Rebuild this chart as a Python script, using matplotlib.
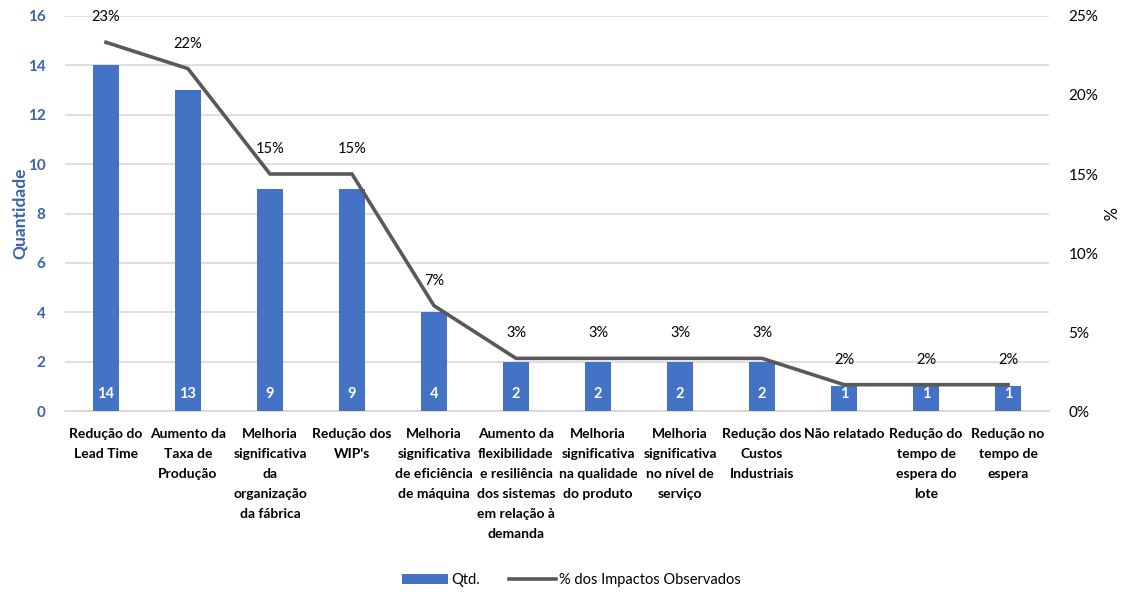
import matplotlib
matplotlib.use("Agg")
import matplotlib.pyplot as plt
from matplotlib.ticker import FuncFormatter, MultipleLocator
import numpy as np

plt.rcParams['font.family'] = ['Lato', 'DejaVu Sans']

categories = [
    "Redução do\nLead Time",
    "Aumento da\nTaxa de\nProdução",
    "Melhoria\nsignificativa\nda\norganização\nda fábrica",
    "Redução dos\nWIP's",
    "Melhoria\nsignificativa\nde eficiência\nde máquina",
    "Aumento da\nflexibilidade\ne resiliência\ndos sistemas\nem relação à\ndemanda",
    "Melhoria\nsignificativa\nna qualidade\ndo produto",
    "Melhoria\nsignificativa\nno nível de\nserviço",
    "Redução dos\nCustos\nIndustriais",
    "Não relatado",
    "Redução do\ntempo de\nespera do\nlote",
    "Redução no\ntempo de\nespera",
]
quantidade = [14, 13, 9, 9, 4, 2, 2, 2, 2, 1, 1, 1]
percent = [100 * q / sum(quantidade) for q in quantidade]

BLUE = "#4472C4"
AXIS_BLUE = "#3B62AC"
LINE_GRAY = "#595959"

fig = plt.figure(figsize=(11.24, 5.92), dpi=100)
ax = fig.add_axes([0.0578, 0.3057, 0.8755, 0.6673])
x = np.arange(len(categories))

bars = ax.bar(x, quantidade, width=0.31, color=BLUE, zorder=3, label="Qtd.")
ax.set_xlim(-0.5, len(categories) - 0.5)
ax.set_ylim(0, 16)
ax.yaxis.set_major_locator(MultipleLocator(2))
ax.grid(axis='y', color="#D9D9D9", linewidth=1.2, zorder=0)
for s in ['top', 'right', 'left']:
    ax.spines[s].set_visible(False)
ax.spines['bottom'].set_color("#D9D9D9")
ax.spines['bottom'].set_linewidth(1.2)
ax.tick_params(axis='both', length=0)
ax.tick_params(axis='y', labelcolor=AXIS_BLUE, labelsize=11, pad=14)
for lab in ax.get_yticklabels():
    lab.set_fontweight('bold')
ax.set_xticks(x)
ax.set_xticklabels(categories, fontsize=10, fontweight='bold', linespacing=1.8)
ax.tick_params(axis='x', pad=12)
ax.set_ylabel("Quantidade", color=AXIS_BLUE, fontsize=12.5, fontweight='bold', labelpad=0)

for xi, q in zip(x, quantidade):
    ax.text(xi, 0.7, str(q), color='white', fontweight='bold', fontsize=10.5,
            ha='center', va='center', zorder=4)

ax2 = ax.twinx()
ax2.set_ylim(0, 25)
ax2.yaxis.set_major_locator(MultipleLocator(5))
ax2.yaxis.set_major_formatter(FuncFormatter(lambda v, p: f"{v:.0f}%"))
for s in ax2.spines.values():
    s.set_visible(False)
ax2.tick_params(axis='y', length=0, labelsize=11, pad=14)
ax2.set_ylabel("%", fontsize=12, rotation=270, labelpad=12)
line, = ax2.plot(x, percent, color=LINE_GRAY, linewidth=2.6, zorder=5,
                 label="% dos Impactos Observados", solid_joinstyle='miter')
for xi, p in zip(x, percent):
    ax2.annotate(f"{p:.0f}%", (xi, p), xytext=(0, 18), textcoords='offset points',
                 ha='center', va='center', fontsize=10.5)

fig.legend(handles=[bars, line], labels=["Qtd.", "% dos Impactos Observados"],
           loc='center', bbox_to_anchor=(0.508, 0.02), ncol=2, frameon=False,
           fontsize=10.5, handlelength=3.2, handletextpad=0.2, columnspacing=2.0)

fig.savefig("out.png", dpi=100)
